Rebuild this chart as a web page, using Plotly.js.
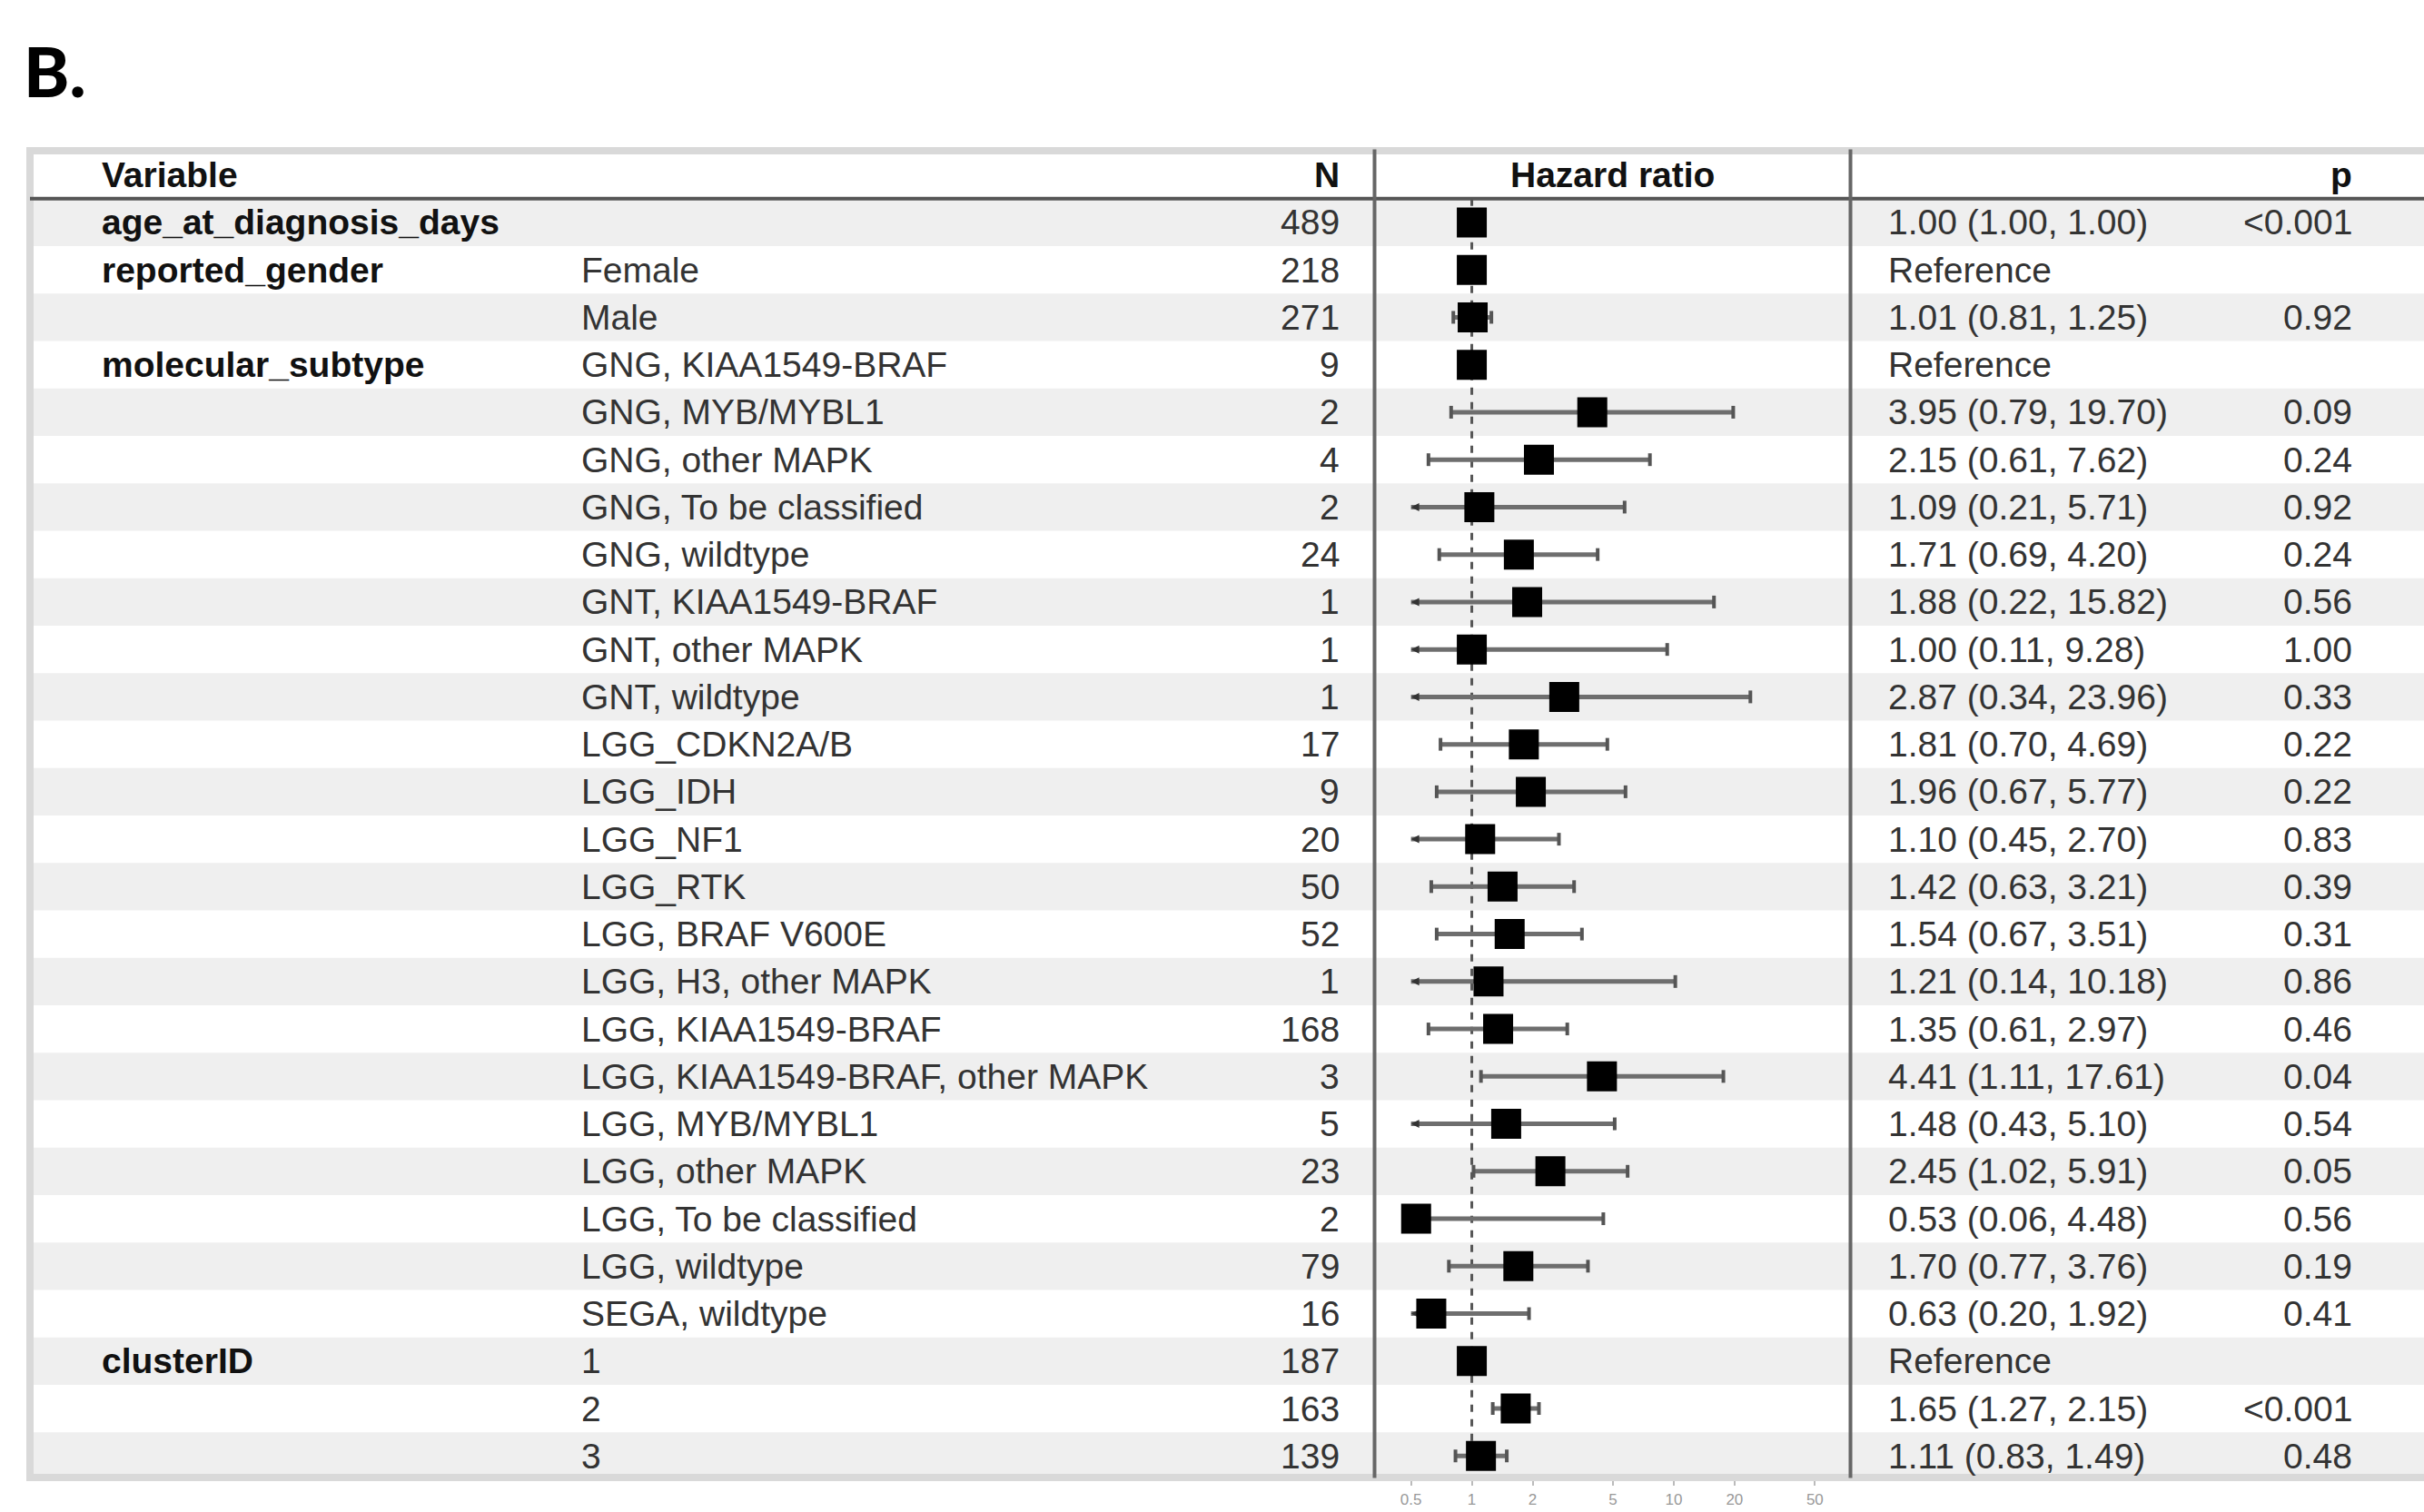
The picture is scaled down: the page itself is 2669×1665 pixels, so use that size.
<!DOCTYPE html>
<html>
<head>
<meta charset="utf-8">
<script src="https://cdn.plot.ly/plotly-3.0.1.min.js"></script>
<style>
html, body { margin: 0; padding: 0; background: #ffffff; }
#chart { width: 2669px; height: 1665px; }
</style>
</head>
<body>
<div id="chart"></div>
<script>
// ---------------- DATA ----------------
const panelLabel = 'B.';
const headerVariable = 'Variable';
const headerN = 'N';
const headerHR = 'Hazard ratio';
const headerP = 'p';

const variables = [
  'age_at_diagnosis_days', 'reported_gender', '', 'molecular_subtype',
  '', '', '', '', '', '', '', '', '', '', '', '', '', '', '', '', '', '', '', '',
  'clusterID', '', ''
];
const levels = [
  '', 'Female', 'Male',
  'GNG, KIAA1549-BRAF', 'GNG, MYB/MYBL1', 'GNG, other MAPK', 'GNG, To be classified',
  'GNG, wildtype', 'GNT, KIAA1549-BRAF', 'GNT, other MAPK', 'GNT, wildtype',
  'LGG_CDKN2A/B', 'LGG_IDH', 'LGG_NF1', 'LGG_RTK', 'LGG, BRAF V600E',
  'LGG, H3, other MAPK', 'LGG, KIAA1549-BRAF', 'LGG, KIAA1549-BRAF, other MAPK',
  'LGG, MYB/MYBL1', 'LGG, other MAPK', 'LGG, To be classified', 'LGG, wildtype',
  'SEGA, wildtype',
  '1', '2', '3'
];
const nCounts = [489, 218, 271, 9, 2, 4, 2, 24, 1, 1, 1, 17, 9, 20, 50, 52, 1, 168, 3, 5, 23, 2, 79, 16, 187, 163, 139];
// Reference rows have no CI (null) and are plotted at HR = 1
const hazardRatio = [1.00, 1, 1.01, 1, 3.95, 2.15, 1.09, 1.71, 1.88, 1.00, 2.87, 1.81, 1.96, 1.10, 1.42, 1.54, 1.21, 1.35, 4.41, 1.48, 2.45, 0.53, 1.70, 0.63, 1, 1.65, 1.11];
const ciLower = [1.00, null, 0.81, null, 0.79, 0.61, 0.21, 0.69, 0.22, 0.11, 0.34, 0.70, 0.67, 0.45, 0.63, 0.67, 0.14, 0.61, 1.11, 0.43, 1.02, 0.06, 0.77, 0.20, null, 1.27, 0.83];
const ciUpper = [1.00, null, 1.25, null, 19.70, 7.62, 5.71, 4.20, 15.82, 9.28, 23.96, 4.69, 5.77, 2.70, 3.21, 3.51, 10.18, 2.97, 17.61, 5.10, 5.91, 4.48, 3.76, 1.92, null, 2.15, 1.49];
const pValues = ['<0.001', '', '0.92', '', '0.09', '0.24', '0.92', '0.24', '0.56', '1.00', '0.33', '0.22', '0.22', '0.83', '0.39', '0.31', '0.86', '0.46', '0.04', '0.54', '0.05', '0.56', '0.19', '0.41', '', '<0.001', '0.48'];
const tickValues = [0.5, 1, 2, 5, 10, 20, 50];
const tickLabels = ['0.5', '1', '2', '5', '10', '20', '50'];
const ciClipLow = 0.5;   // CIs below this are truncated with an arrow

// ---------------- LAYOUT HELPERS ----------------
const W = 2669, H = 1665;
const px = x => x / W;
const py = y => 1 - y / H;
const nRows = variables.length;
const rows = variables.map((_, i) => i + 1);

const FONT = 'Liberation Sans, Arial, Helvetica, sans-serif';
const FS = 39;
const TXT = '#333333';
const BOLD = '#111111';

const estText = hazardRatio.map((h, i) =>
  ciLower[i] === null ? 'Reference'
    : h.toFixed(2) + ' (' + ciLower[i].toFixed(2) + ', ' + ciUpper[i].toFixed(2) + ')');

// column positions (pixels)
const colVar = 110, colLevel = 638, colN = 1477, colEst = 2077, colP = 2592;
const panelL = 1513.5, panelR = 2037.5;
const yTop = 166.6, yBot = 1629.4;

// ---------------- TRACES ----------------
const ciX = [], ciY = [];
const capX = [], capY = [];
const arrX = [], arrY = [];
rows.forEach((r, i) => {
  if (ciLower[i] === null) return;
  const lo = Math.max(ciLower[i], ciClipLow);
  ciX.push(lo, ciUpper[i], null);
  ciY.push(r, r, null);
  capX.push(ciUpper[i]); capY.push(r);
  if (ciLower[i] < ciClipLow) { arrX.push(ciClipLow); arrY.push(r); }
  else { capX.push(ciLower[i]); capY.push(r); }
});

const traces = [
  { // reference line at HR = 1
    x: [1, 1], y: [0.5, nRows + 0.5], mode: 'lines', type: 'scatter',
    line: { color: '#555555', width: 3, dash: '8px,8px' }, hoverinfo: 'skip', showlegend: false
  },
  { // confidence intervals
    x: ciX, y: ciY, mode: 'lines', type: 'scatter',
    line: { color: '#6e6e6e', width: 5 }, hoverinfo: 'skip', showlegend: false
  },
  { // CI ends
    x: capX, y: capY, mode: 'markers', type: 'scatter',
    marker: { symbol: 'line-ns', size: 10, line: { color: '#555555', width: 4 } },
    hoverinfo: 'skip', showlegend: false
  },
  { // truncated CI arrows
    x: arrX, y: arrY, mode: 'markers', type: 'scatter',
    marker: { symbol: 'arrow-left', size: 9, color: '#333333', line: { width: 0 } },
    hoverinfo: 'skip', showlegend: false
  },
  { // point estimates
    x: hazardRatio, y: rows, mode: 'markers', type: 'scatter',
    marker: { symbol: 'square', size: 33, color: '#000000', line: { width: 0 } },
    hoverinfo: 'skip', showlegend: false
  }
];

// ---------------- SHAPES ----------------
const shapes = [];
rows.forEach(r => {
  if (r % 2 === 1) {
    shapes.push({ type: 'rect', xref: 'paper', yref: 'y', x0: px(36), x1: 1, y0: r - 0.5, y1: r + 0.5,
      fillcolor: '#efefef', line: { width: 0 }, layer: 'below' });
  }
});
// outer frame
shapes.push({ type: 'rect', xref: 'paper', yref: 'paper', x0: px(33), x1: px(2680), y0: py(1627), y1: py(166),
  line: { color: '#d9d9d9', width: 8 }, fillcolor: 'rgba(0,0,0,0)', layer: 'above' });
// header rule
shapes.push({ type: 'line', xref: 'paper', yref: 'y', x0: px(33), x1: 1, y0: 0.5, y1: 0.5,
  line: { color: '#555555', width: 4 }, layer: 'above' });
// panel borders
[panelL, panelR].forEach(x => shapes.push({ type: 'line', xref: 'paper', yref: 'paper', x0: px(x), x1: px(x),
  y0: py(yBot - 2), y1: py(yTop - 2), line: { color: '#666666', width: 4 }, layer: 'above' }));

// ---------------- ANNOTATIONS ----------------
const ann = [];
const addText = (text, x, y, anchor, bold) => {
  ann.push({
    text: text, xref: 'paper', yref: 'y', x: px(x), y: y, xanchor: anchor, yanchor: 'middle',
    showarrow: false, align: anchor === 'right' ? 'right' : 'left',
    font: { family: FONT, size: FS, color: bold ? BOLD : TXT, weight: bold ? 700 : 400 }
  });
};
addText(headerVariable, colVar, 0, 'left', true);
addText(headerN, colN, 0, 'right', true);
addText(headerHR, (panelL + panelR) / 2, 0, 'center', true);
addText(headerP, colP, 0, 'right', true);
rows.forEach((r, i) => {
  if (variables[i]) addText(variables[i], colVar, r, 'left', true);
  if (levels[i]) addText(levels[i], colLevel, r, 'left', false);
  addText(String(nCounts[i]), colN, r, 'right', false);
  addText(estText[i], colEst, r, 'left', false);
  if (pValues[i]) addText(pValues[i], colP, r, 'right', false);
});
ann.push({ text: panelLabel, xref: 'paper', yref: 'paper', x: px(24), y: py(78), xanchor: 'left', yanchor: 'middle',
  showarrow: false, font: { family: 'Lato, Open Sans, sans-serif', size: 76, color: '#000000', weight: 900 } });

// ---------------- LAYOUT ----------------
const layout = {
  width: W, height: H, autosize: false,
  margin: { l: 0, r: 0, t: 0, b: 0, pad: 0 },
  paper_bgcolor: '#ffffff', plot_bgcolor: 'rgba(0,0,0,0)',
  showlegend: false, hovermode: false,
  xaxis: {
    type: 'log', domain: [px(panelL), px(panelR)],
    range: [Math.log10(0.33), Math.log10(75)],
    tickmode: 'array', tickvals: tickValues, ticktext: tickLabels,
    ticks: 'outside', ticklen: 6, tickwidth: 2, tickcolor: '#bbbbbb',
    tickfont: { family: FONT, size: 17, color: '#999999' },
    showgrid: false, zeroline: false, showline: false, fixedrange: true
  },
  yaxis: {
    domain: [py(yBot), py(yTop)], range: [nRows + 0.5, -0.5], autorange: false,
    showticklabels: false, ticks: '', showgrid: false, zeroline: false, showline: false, fixedrange: true
  },
  shapes: shapes,
  annotations: ann
};

Plotly.newPlot('chart', traces, layout, { displayModeBar: false, staticPlot: true });
</script>
</body>
</html>
